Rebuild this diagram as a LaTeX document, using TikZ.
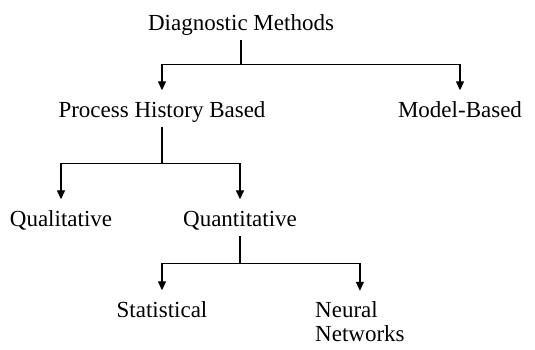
\documentclass[tikz,border=0pt]{standalone}
\usepackage{fontspec}
\setmainfont{Liberation Serif}
\usetikzlibrary{arrows.meta}
\usetikzlibrary{calc}

\begin{document}
\begin{tikzpicture}[
					x=1pt, y=-1pt,
					method/.style={font=\fontsize{23}{24}\selectfont, text height=15pt, text depth=5pt, inner xsep=0pt, inner ysep=5pt, anchor=base},
					stacked/.style={font=\fontsize{23}{24}\selectfont, align=left, inner sep=0pt, anchor=north west},
					link/.style={line width=1.3pt},
					branch/.style={link, -{Triangle[length=9pt,width=8pt]}, shorten >=6.5pt}
				]
					\useasboundingbox (0,0) rectangle (535,349);
					\node[method] (diag) at (241,30) {Diagnostic Methods};
					\node[method] (history) at (162,117) {Process History Based};
					\node[method] (model) at (460,117) {Model-Based};
					\node[method] (qual) at (61,226) {Qualitative};
					\node[method] (quant) at (240,226) {Quantitative};
					\node[method] (stat) at (162,317) {Statistical};
					\node[stacked] (neural) at (315,301.3) {Neural\\Networks};
					% junctions
					\coordinate (j1) at ($(diag.south)+(0,24)$);
					\coordinate (j2) at ($(history.south)+(0,36)$);
					\coordinate (j3) at ($(quant.south)+(0,27)$);
					\draw[link] (diag.south) -- (j1);
					\draw[branch] (j1) -| (history.north);
					\draw[branch] (j1) -| (model.north);
					\draw[link] (history.south) -- (j2);
					\draw[branch] (j2) -| (qual.north);
					\draw[branch] (j2) -| (quant.north);
					\draw[link] (quant.south) -- (j3);
					\draw[branch] (j3) -| (stat.north);
					\draw[branch] (j3) -| ([yshift=4pt]neural.north);
				\end{tikzpicture}
\end{document}
